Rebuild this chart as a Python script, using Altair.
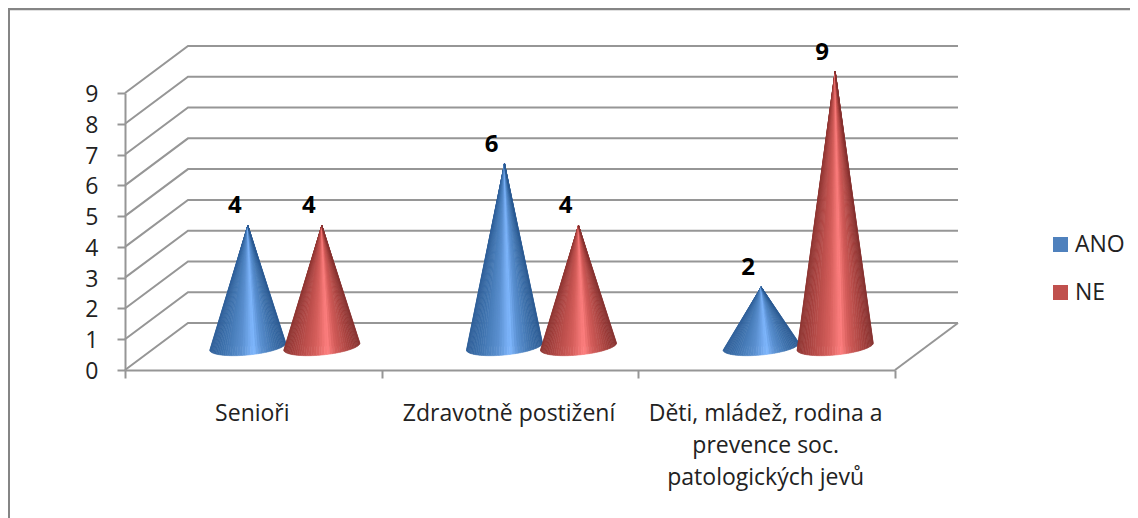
import math
import altair as alt
import pandas as pd

categories = ["Senioři", "Zdravotně postižení", "Děti, mládež, rodina a\nprevence soc.\npatologických jevů"]
series_names = ["ANO", "NE"]
ano_values = [4, 6, 2]
ne_values = [4, 4, 9]
y_ticks = list(range(10))
x_ticks = [0, 1, 2, 3]

FONT = "Open Sans"
GREY = "#969696"
TEXT = "#222222"
W, H = 770, 277
PX = W / 3            # px per category
PY = H / 9            # px per value
DX, DY = 63 / PX, 47 / PY   # depth of the 3D box, in data units

RAMPS = {
    "ANO": [(0, "#2f5f99"), (0.18, "#3f73ae"), (0.42, "#5b90d0"), (0.58, "#80b8ff"), (0.68, "#5d93d4"), (0.85, "#3f72ad"), (1, "#2c5b93")],
    "NE": [(0, "#8e3532"), (0.18, "#ae4643"), (0.42, "#d55f5c"), (0.58, "#ff8080"), (0.68, "#d65f5c"), (0.85, "#ac4542"), (1, "#873230")],
}

def ramp(name, f):
    stops = RAMPS[name]
    for (a, ca), (b, cb) in zip(stops, stops[1:]):
        if f <= b:
            k = (f - a) / (b - a)
            rgb = [round(int(ca[i:i + 2], 16) * (1 - k) + int(cb[i:i + 2], 16) * k) for i in (1, 3, 5)]
            return "#%02x%02x%02x" % tuple(rgb)
    return stops[-1][1]

# cones
HALF = 38 / PX
OFFSET = 37 / PX
TILT = 3.5 / PY
BULGE = 8.5 / PY
TIP_DROP = 2 / PY
N = 44
wedges, outlines, tops = [], [], []
wid = 0
for ci, cat in enumerate(categories):
    for si, name in enumerate(series_names):
        v = (ano_values if si == 0 else ne_values)[ci]
        cx = ci + 0.5 + DX / 2 + (OFFSET if si else -OFFSET)
        base = DY / 2
        apex = (cx, base + v - TIP_DROP)
        tops.append({"x": cx, "y": apex[1], "label": str(v), "series": name})
        def rim(u):
            return (cx + HALF * u, base + TILT * u - BULGE * math.sqrt(max(0, 1 - u * u)))
        for p in ((cx - HALF / 2, base), apex, (cx + HALF / 2, base)):
            outlines.append({"x": p[0], "y": p[1], "y2": base, "series": name, "cone": f"{ci}{si}"})
        for k in range(N):
            u0 = -math.cos(math.pi * k / N)
            u1 = -math.cos(math.pi * (k + 1) / N)
            pts = sorted([apex, rim(u0), rim(u1)])
            (x0, y0), (x1, y1), (x2, y2) = pts
            ym = y0 + (y2 - y0) * (x1 - x0) / (x2 - x0)
            col = ramp(name, ((u0 + u1) / 2 + 1) / 2)
            for x, a, b in ((x0, y0, y0), (x1, y1, ym), (x2, y2, y2)):
                wedges.append({"x": x, "y": a, "y2": b, "w": wid, "col": col})
            wid += 1

grid = []
for v in y_ticks:
    for i, (x, y) in enumerate([(0, v), (DX, v + DY), (3 + DX, v + DY)]):
        grid.append({"x": x, "y": y, "line": v, "i": i})
for i, (x, y) in enumerate([(3 + DX, DY), (3, 0)]):
    grid.append({"x": x, "y": y, "line": 99, "i": i})

xs = alt.Scale(domain=[0, 3], nice=False, zero=False)
ys = alt.Scale(domain=[0, 9], nice=False, zero=False)
axis_common = dict(domainColor=GREY, domainWidth=2, tickColor=GREY, tickWidth=2, tickSize=8, grid=False, title=None)
x_axis = alt.Axis(values=x_ticks, labels=False, **axis_common)
y_axis = alt.Axis(values=y_ticks, labelFont=FONT, labelFontSize=23, labelColor=TEXT, labelPadding=19, format="d",
                  labelBaseline="middle", labelOverlap=False, labelOffset=1.5, **axis_common)
X = alt.X("x:Q", scale=xs, axis=x_axis)
Y = alt.Y("y:Q", scale=ys, axis=y_axis)

grid_layer = alt.Chart(pd.DataFrame(grid)).mark_line(color=GREY, strokeWidth=2).encode(
    x=X, y=Y, detail="line:N", order="i:Q",
)

legend_layer = alt.Chart(pd.DataFrame(outlines)).mark_area().encode(
    x=X, y=Y, y2="y2:Q", detail="cone:N",
    color=alt.Color("series:N", scale=alt.Scale(domain=series_names, range=["#4f81bd", "#c0504d"]),
                    legend=alt.Legend(orient="none", legendX=924, legendY=140, title=None, symbolType="square",
                                      symbolSize=225, symbolStrokeWidth=0, labelFont=FONT, labelFontSize=23,
                                      labelColor=TEXT, rowPadding=24, labelOffset=3)),
)

wedge_layer = alt.Chart(pd.DataFrame(wedges)).mark_area(strokeWidth=0.6).encode(
    x=X, y=Y, y2="y2:Q", detail="w:N",
    fill=alt.Fill("col:N", scale=None), stroke=alt.Stroke("col:N", scale=None),
)

value_layer = alt.Chart(pd.DataFrame(tops)).mark_text(font=FONT, fontWeight="bold", fontSize=24, color="#000000",
                                                     dx=-13, dy=-19).encode(
    x=X, y=Y, text="label:N",
)

cat_df = pd.DataFrame({"x": [0.5, 1.5, 2.5], "label": categories})
cat_layer = alt.Chart(cat_df).mark_text(font=FONT, fontSize=23, color=TEXT, lineBreak="\n", lineHeight=32,
                                        baseline="top", dx=-1).encode(
    x=X, y=alt.value(310), text="label:N",
)

frame_left = alt.Chart(pd.DataFrame({"a": [0]})).mark_rule(color="#858585", strokeWidth=2).encode(
    x=alt.value(-116), y=alt.value(-84), y2=alt.value(425))
frame_top = alt.Chart(pd.DataFrame({"a": [0]})).mark_rule(color="#858585", strokeWidth=2.4).encode(
    y=alt.value(-84), x=alt.value(-117), x2=alt.value(1005))

chart = alt.layer(frame_left, frame_top, grid_layer, legend_layer, wedge_layer, value_layer, cat_layer).properties(
    width=W, height=H,
    padding={"left": 117, "top": 85, "right": 235, "bottom": 148},
    autosize="none", background="white",
).configure_view(stroke=None)

chart.save("out.html", embed_options={"renderer": "svg", "actions": False})
